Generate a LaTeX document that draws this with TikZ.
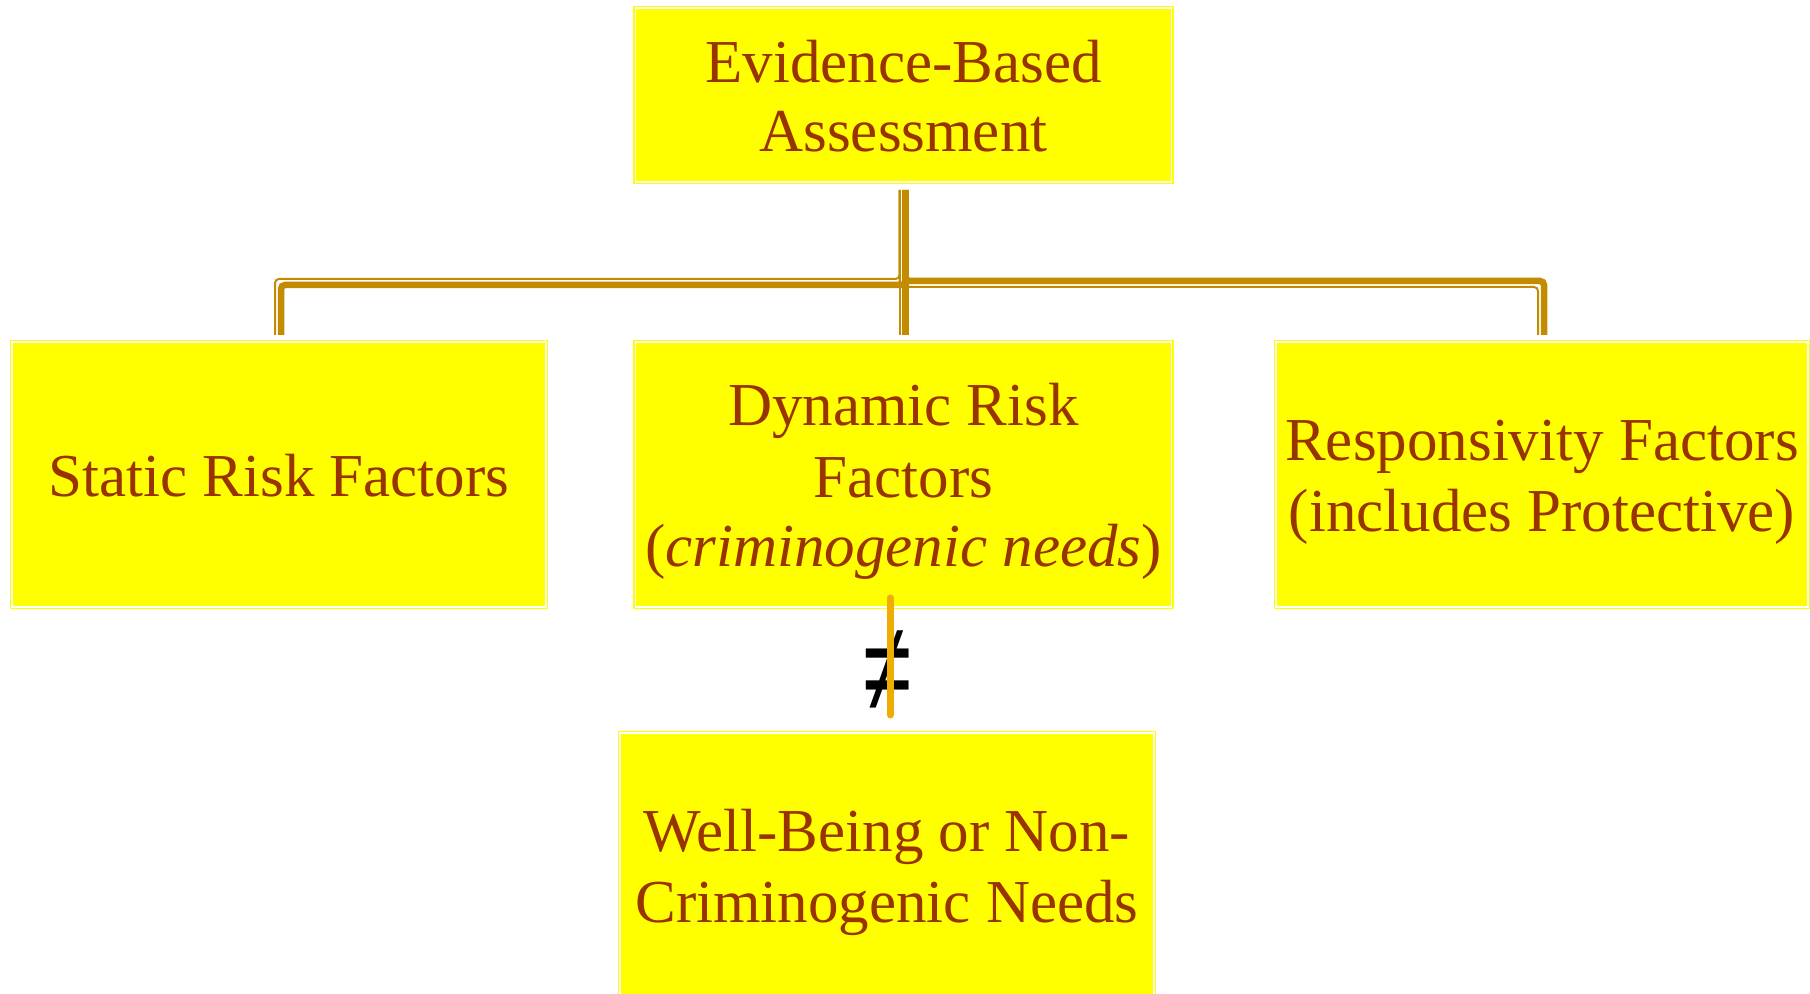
\documentclass[tikz,border=0pt]{standalone}
\usepackage{fontspec}
\setmainfont{Liberation Serif}
\newfontfamily\symfont{Liberation Sans}
\usetikzlibrary{calc}
\definecolor{boxyellow}{RGB}{255,255,0}
\definecolor{txtbrown}{RGB}{153,51,0}
\definecolor{linegold}{RGB}{195,139,0}
\definecolor{neqorange}{RGB}{240,172,0}
\newcommand\ls{\rule[-0.2em]{0pt}{1.12em}}
\begin{document}
\begin{tikzpicture}[x=0.5pt,y=-0.5pt,
  box/.style={draw=boxyellow, double=white, double distance=0.9pt, line width=0.6pt,
    fill=boxyellow, text=txtbrown, font=\fontsize{30.5}{34.5}\selectfont,
    align=center, inner sep=0pt, outer sep=0pt},
  thk/.style={draw=linegold, line width=3.25pt, rounded corners=2pt},
  thn/.style={draw=linegold, line width=1pt, rounded corners=2pt},
  neqline/.style={draw=neqorange, line width=3.5pt, line cap=round}]
\useasboundingbox (0,0) rectangle (1810,994);
\node[box, minimum width=268pt, minimum height=87pt] (top) at (903.5,95) {\ls Evidence-Based\\\ls Assessment};
\node[box, minimum width=267pt, minimum height=132.5pt] (static) at (279,474.5) {\ls Static Risk Factors};
\node[box, minimum width=268pt, minimum height=132.5pt] (dyn) at (903.5,474.5) {\ls Dynamic Risk\\\ls Factors\\\ls (\textit{criminogenic needs})};
\node[box, minimum width=266pt, minimum height=132.5pt] (resp) at (1542,474.5) {\ls Responsivity Factors\\\ls (includes Protective)};
\node[box, minimum width=267pt, minimum height=132.5pt] (well) at (887,865.5) {\ls Well-Being or Non-\\\ls Criminogenic Needs};
\coordinate (s) at ($(top.south)+(0,8)$);
\coordinate (hl) at ($(top.south)+(0,101)$);
% left branch
\draw[thk] ($(s)+(2,0)$) |- ($(static.north|-hl)+(2,2)$) -- ($(static.north)+(2,-7)$);
\draw[thn] ($(s)+(-4,0)$) |- ($(static.north|-hl)+(-4,-4)$) -- ($(static.north)+(-4,-7)$);
% right branch
\draw[thk] ($(s)+(2,0)$) |- ($(resp.north|-hl)+(2,-2)$) -- ($(resp.north)+(2,-7)$);
\draw[thn] ($(s)+(-4,0)$) |- ($(resp.north|-hl)+(-4,4)$) -- ($(resp.north)+(-4,-7)$);
% middle
\draw[thk] ($(s)+(2,0)$) -- ($(dyn.north)+(2,-7)$);
\draw[thn] ($(s)+(-4,0)$) -- ($(dyn.north)+(-4,-7)$);
% not equal
\node[font=\symfont\fontsize{44}{44}\selectfont, inner sep=0pt] (neq) at (887.5,671) {\scalebox{1}[1.45]{≠}};
\draw[neqline] ($(dyn.south)+(-13.5,-9)$) -- ($(well.north)+(3,-18)$);
\end{tikzpicture}
\end{document}
